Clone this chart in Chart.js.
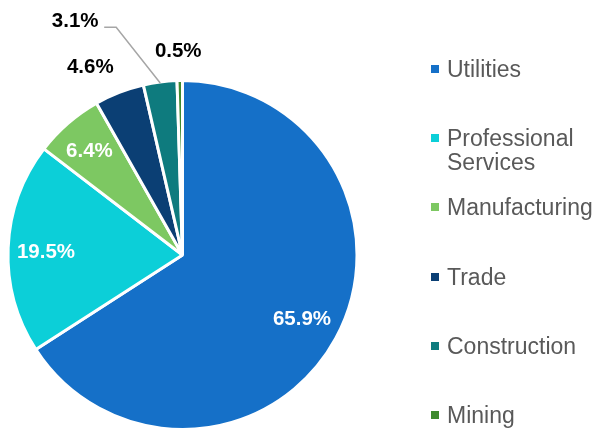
<!DOCTYPE html>
<html>
<head>
<meta charset="utf-8">
<script src="https://cdn.jsdelivr.net/npm/chart.js@4"></script>
<style>
  html, body { margin: 0; padding: 0; background: #fff; }
  #wrap { position: relative; width: 597px; height: 431px; overflow: hidden; }
  #c { position: absolute; left: 0; top: 0; }
  #legend { position: absolute; left: 0; top: 0; width: 597px; height: 431px; pointer-events: none; }
  .li { position: absolute; left: 431px; font-family: "Liberation Sans", Arial, sans-serif; font-size: 23px; color: #595959; line-height: 24px; }
  .sw { position: absolute; left: 0; top: 8px; width: 8px; height: 8px; }
  .tx { position: absolute; left: 16px; top: 0; white-space: nowrap; }
</style>
</head>
<body>
<div id="wrap">
  <canvas id="c" width="597" height="431"></canvas>
  <div id="legend"></div>
</div>
<script>
const categories = ["Utilities", "Professional Services", "Manufacturing", "Trade", "Construction", "Mining"];
const legendLines = [["Utilities"], ["Professional", "Services"], ["Manufacturing"], ["Trade"], ["Construction"], ["Mining"]];
const shares = [65.9, 19.5, 6.4, 4.6, 3.1, 0.5];
const valueLabels = ["65.9%", "19.5%", "6.4%", "4.6%", "3.1%", "0.5%"];
const colors = ["#1570C8", "#0CCFD8", "#7DC862", "#0B3F74", "#0E7B7E", "#3E8A2E"];

// HTML legend
const legendEl = document.getElementById('legend');
legendLines.forEach((lines, i) => {
  const item = document.createElement('div');
  item.className = 'li';
  item.style.top = (57 + i * 69.2) + 'px';
  const sw = document.createElement('div');
  sw.className = 'sw';
  sw.style.background = colors[i];
  item.appendChild(sw);
  const tx = document.createElement('div');
  tx.className = 'tx';
  tx.innerHTML = lines.join('<br>');
  item.appendChild(tx);
  legendEl.appendChild(item);
});

// label placement tweaks: [radius factor, dx, dy]
const placement = [[0.78, 0, -1], [0.8, 3, 3], [0.83, 2, 6], [1.19, -17, 6], [1.19, 0, 0], [1.19, -1, 4]];

const labelPlugin = {
  id: 'pieLabels',
  afterDatasetsDraw(chart) {
    const ctx = chart.ctx;
    const meta = chart.getDatasetMeta(0);
    ctx.save();
    ctx.font = 'bold 20.5px "Liberation Sans", Arial, sans-serif';
    ctx.textAlign = 'center';
    ctx.textBaseline = 'middle';
    meta.data.forEach((arc, i) => {
      const p = arc.getProps(['x', 'y', 'startAngle', 'endAngle', 'outerRadius'], true);
      const mid = (p.startAngle + p.endAngle) / 2;
      const R = p.outerRadius;
      const cos = Math.cos(mid), sin = Math.sin(mid);
      const [f, dx, dy] = placement[i];
      if (shares[i] >= 5) {
        ctx.fillStyle = '#ffffff';
        ctx.fillText(valueLabels[i], p.x + cos * R * f + dx, p.y + sin * R * f + dy);
      } else if (categories[i] === 'Construction') {
        // leader line
        const sx = p.x + cos * (R - 1), sy = p.y + sin * (R - 1);
        const ex = p.x - 0.38 * R, ey = p.y - 1.305 * R;
        ctx.strokeStyle = '#A6A6A6';
        ctx.lineWidth = 1.5;
        ctx.beginPath();
        ctx.moveTo(sx, sy);
        ctx.lineTo(ex, ey);
        ctx.lineTo(ex - 12, ey);
        ctx.stroke();
        ctx.fillStyle = '#000000';
        ctx.fillText(valueLabels[i], ex - 41, ey - 6);
      } else {
        ctx.fillStyle = '#000000';
        ctx.fillText(valueLabels[i], p.x + cos * R * f + dx, p.y + sin * R * f + dy);
      }
    });
    ctx.restore();
  }
};

new Chart(document.getElementById('c'), {
  type: 'pie',
  data: {
    labels: categories,
    datasets: [{
      data: shares,
      backgroundColor: colors,
      borderColor: '#ffffff',
      borderWidth: 3
    }]
  },
  options: {
    responsive: false,
    animation: false,
    layout: { padding: { left: 6, right: 238, top: 79, bottom: 0 } },
    plugins: {
      legend: { display: false },
      tooltip: { enabled: false }
    }
  },
  plugins: [labelPlugin]
});
</script>
</body>
</html>
